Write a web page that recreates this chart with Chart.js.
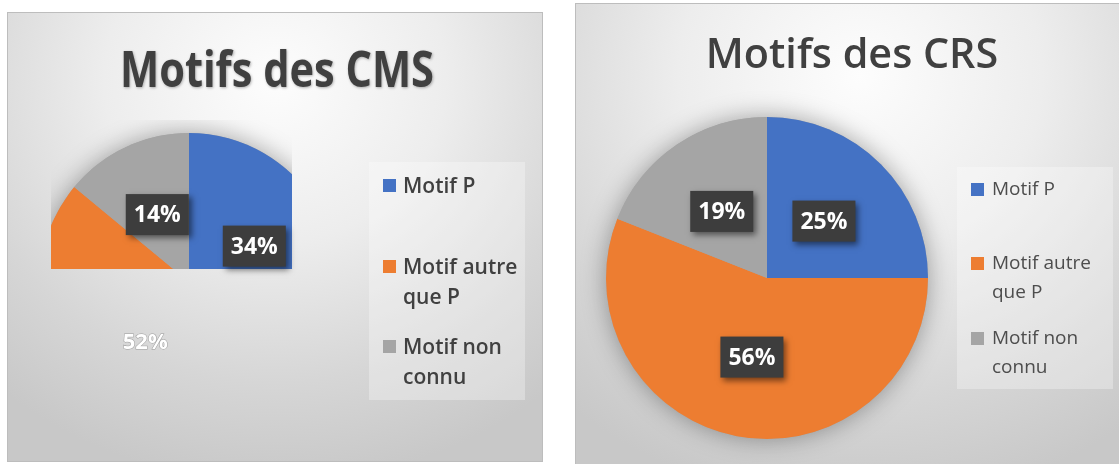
<!DOCTYPE html>
<html lang="fr">
<head>
<meta charset="utf-8">
<title>Motifs des CMS / CRS</title>
<script src="https://cdn.jsdelivr.net/npm/chart.js@4.4.1/dist/chart.umd.min.js"></script>
<style>
  html, body { margin: 0; padding: 0; background: #fff; }
  body { width: 1119px; height: 464px; position: relative; overflow: hidden; font-family: "Open Sans", sans-serif; }
  .panel {
    position: absolute; box-sizing: border-box; border: 1px solid #bdbdbd;
    background: radial-gradient(ellipse 80% 90% at 50% 15%, #fdfdfd 0%, #ededed 40%, #d6d6d6 75%, #c8c8c8 100%);
  }
  #leftPanel { left: 7px; top: 12px; width: 536px; height: 450px; }
  #rightPanel { left: 575px; top: 3px; width: 570px; height: 480px; }
  canvas { position: absolute; top: 0; }
  .title {
    position: absolute; white-space: nowrap; color: #404040;
    transform-origin: 50% 50%;
  }
  #cmsTitle { left: 277px; top: 43px; font-size: 50px; line-height: 50px; font-weight: 700; text-shadow: 1px 1px 3px rgba(0,0,0,0.3); }
  #crsTitle { left: 852px; top: 31px; font-size: 42px; line-height: 42px; font-weight: 600; }
  .legend { position: absolute; background: rgba(255,255,255,0.3); }
  .legend .item { position: absolute; white-space: nowrap; }
  .legend .sw { position: absolute; top: 9px; width: 13px; height: 13px; }
  #cmsLegend { left: 369px; top: 162px; width: 156px; height: 238px; color: #404040; font-size: 21px; line-height: 30px; font-weight: 600; }
  #crsLegend { left: 957px; top: 167px; width: 156px; height: 222px; color: #4d4d4d; font-size: 19px; line-height: 29px; font-weight: 400; }
</style>
</head>
<body>
<div class="panel" id="leftPanel"></div>
<div class="panel" id="rightPanel"></div>
<canvas id="cmsChart" width="560" height="464" style="left:0"></canvas>
<canvas id="crsChart" width="559" height="464" style="left:560px"></canvas>
<div class="title" id="cmsTitle">Motifs des CMS</div>
<div class="title" id="crsTitle">Motifs des CRS</div>
<div class="legend" id="cmsLegend"></div>
<div class="legend" id="crsLegend"></div>

<script>
// categories (one entry per legend line)
const motifLabels = [['Motif P'], ['Motif autre', 'que P'], ['Motif non', 'connu']];
const motifColors = ['#4472C4', '#ED7D31', '#A5A5A5'];

// percentages
const cmsValues = [34, 52, 14];
const crsValues = [25, 56, 19];

// shadow under the pie, clipping and the dark value boxes
const pieExtras = {
  id: 'pieExtras',
  beforeDatasetsDraw(chart, args, opts) {
    const ctx = chart.ctx;
    const arc = chart.getDatasetMeta(0).data[0];
    ctx.save();
    if (opts.clip) {
      const c = opts.clip;
      ctx.beginPath();
      ctx.rect(c.left, c.top, c.right - c.left, c.bottom - c.top);
      ctx.clip();
    }
    ctx.save();
    ctx.shadowColor = 'rgba(0,0,0,0.35)';
    ctx.shadowBlur = 24;
    ctx.beginPath();
    ctx.arc(arc.x, arc.y, arc.outerRadius, 0, Math.PI * 2);
    ctx.fillStyle = '#a5a5a5';
    ctx.fill();
    ctx.restore();
  },
  afterDatasetsDraw(chart, args, opts) {
    const ctx = chart.ctx;
    ctx.restore();
    const values = chart.data.datasets[0].data;
    const noBox = opts.noBox || [];
    chart.getDatasetMeta(0).data.forEach((arc, i) => {
      const p = arc.getCenterPoint();
      const text = values[i] + '%';
      ctx.save();
      ctx.font = 'bold 23px "Open Sans"';
      ctx.textAlign = 'center';
      ctx.textBaseline = 'middle';
      if (noBox.includes(i)) {
        // this label lost its box in the original, only white text is left
        ctx.font = 'bold 22px "Open Sans"';
        ctx.lineWidth = 1;
        ctx.strokeStyle = 'rgba(130,130,130,0.7)';
        ctx.strokeText(text, p.x, p.y);
        ctx.fillStyle = '#fff';
        ctx.fillText(text, p.x, p.y);
      } else {
        const w = ctx.measureText(text).width + 16;
        const h = 41;
        ctx.shadowColor = 'rgba(0,0,0,0.5)';
        ctx.shadowBlur = 6;
        ctx.shadowOffsetX = 3;
        ctx.shadowOffsetY = 3;
        ctx.fillStyle = '#3d3d3d';
        ctx.fillRect(p.x - w / 2, p.y - h / 2, w, h);
        ctx.shadowColor = 'transparent';
        ctx.fillStyle = '#fff';
        ctx.fillText(text, p.x, p.y + 1);
      }
      ctx.restore();
    });
  }
};

function makePie(canvasId, values, padding, extras) {
  return new Chart(document.getElementById(canvasId), {
    type: 'pie',
    data: {
      labels: motifLabels,
      datasets: [{
        data: values,
        backgroundColor: motifColors,
        borderWidth: 0
      }]
    },
    options: {
      responsive: false,
      animation: false,
      devicePixelRatio: 1,
      layout: { padding: padding },
      plugins: {
        legend: { display: false },
        tooltip: { enabled: false },
        pieExtras: extras
      }
    },
    plugins: [pieExtras]
  });
}

// the CMS pie comes out cut off in the original, only its top part shows
makePie('cmsChart', cmsValues, { left: 40, top: 133, right: 222, bottom: 33 },
  { clip: { left: 51, top: 120, right: 292, bottom: 269 }, noBox: [1] });
makePie('crsChart', crsValues, { left: 46, top: 117, right: 191, bottom: 25 }, {});

function buildLegend(id, itemTops, swLeft, textLeft) {
  const box = document.getElementById(id);
  motifLabels.forEach((lines, i) => {
    const item = document.createElement('div');
    item.className = 'item';
    item.style.top = itemTops[i] + 'px';
    item.style.left = '0px';
    const sw = document.createElement('span');
    sw.className = 'sw';
    sw.style.left = swLeft + 'px';
    sw.style.background = motifColors[i];
    const txt = document.createElement('div');
    txt.style.marginLeft = textLeft + 'px';
    txt.innerHTML = lines.join('<br>');
    item.appendChild(sw);
    item.appendChild(txt);
    box.appendChild(item);
  });
}
buildLegend('cmsLegend', [8, 89, 169], 14, 34);
buildLegend('crsLegend', [7, 81, 156], 14, 35);

// squeeze the titles to the narrow width of the original font
function fitTitle(id, targetWidth) {
  const el = document.getElementById(id);
  const k = targetWidth / el.offsetWidth;
  el.style.transform = 'translateX(-50%) scaleX(' + k.toFixed(3) + ')';
}
fitTitle('cmsTitle', 314);
fitTitle('crsTitle', 292);
</script>
</body>
</html>
